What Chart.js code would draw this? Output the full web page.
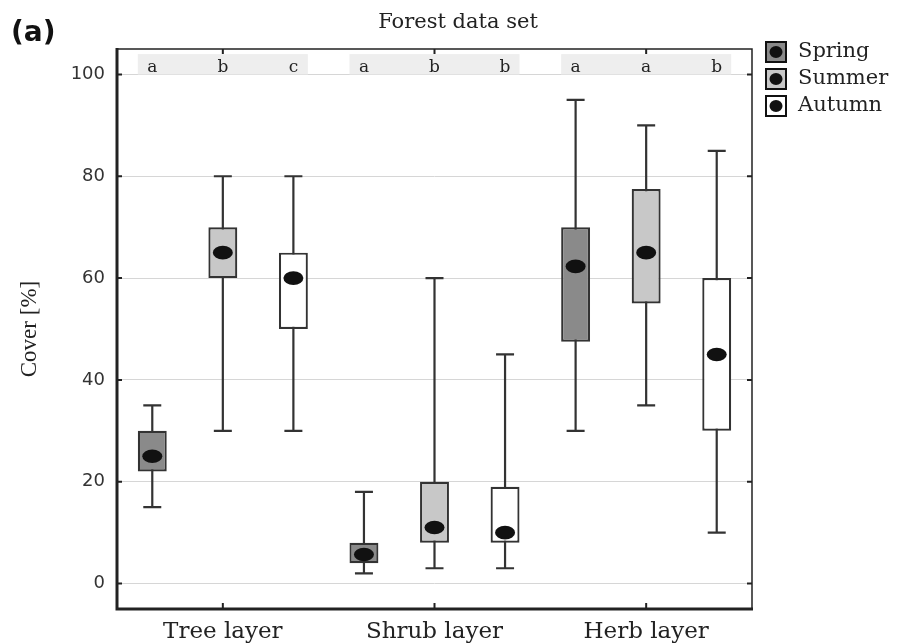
<!DOCTYPE html>
<html>
<head>
<meta charset="utf-8">
<script src="https://cdn.jsdelivr.net/npm/chart.js@4.4.1/dist/chart.umd.min.js"></script>
<style>
  html, body { margin: 0; padding: 0; background: #fff; }
  #wrap { width: 908px; height: 643px; position: relative; }
</style>
</head>
<body>
<div id="wrap"><canvas id="boxChart"></canvas></div>
<script>
const categories = ['Tree layer', 'Shrub layer', 'Herb layer'];
const seasons = ['Spring', 'Summer', 'Autumn'];
const yTicks = [0, 20, 40, 60, 80, 100];

// whisker min, box q1, median, box q3, whisker max (per layer)
const springMin = [15, 2, 30];
const springQ1 = [22, 4, 47.5];
const springMedian = [25, 5.7, 62.3];
const springQ3 = [30, 8, 70];
const springMax = [35, 18, 95];

const summerMin = [30, 3, 35];
const summerQ1 = [60, 8, 55];
const summerMedian = [65, 11, 65];
const summerQ3 = [70, 20, 77.5];
const summerMax = [80, 60, 90];

const autumnMin = [30, 3, 10];
const autumnQ1 = [50, 8, 30];
const autumnMedian = [60, 10, 45];
const autumnQ3 = [65, 19, 60];
const autumnMax = [80, 45, 85];

const springLetters = ['a', 'a', 'a'];
const summerLetters = ['b', 'b', 'a'];
const autumnLetters = ['c', 'b', 'b'];

const seasonColors = ['#8a8a8a', '#c8c8c8', '#ffffff'];
const SERIF = '"DejaVu Serif", serif';
const NARROW_SERIF = '"Liberation Serif", serif';
const SANS = '"DejaVu Sans", sans-serif';

const stats = [
    { min: springMin, median: springMedian, max: springMax, letters: springLetters },
    { min: summerMin, median: summerMedian, max: summerMax, letters: summerLetters },
    { min: autumnMin, median: autumnMedian, max: autumnMax, letters: autumnLetters }
];

const boxes = [springQ1, summerQ1, autumnQ1].map((q1, s) => {
    const q3 = [springQ3, summerQ3, autumnQ3][s];
    return q1.map((v, i) => [v, q3[i]]);
});

// letter strip, whiskers under the boxes
const underBoxes = {
    id: 'underBoxes',
    beforeDatasetsDraw(chart) {
        const { ctx } = chart;
        const y = chart.scales.y;
        const first = chart.getDatasetMeta(0).data;
        const last = chart.getDatasetMeta(2).data;

        ctx.save();
        ctx.fillStyle = '#eeeeee';
        first.forEach((bar, i) => {
            const x0 = bar.x - bar.width / 2;
            const x1 = last[i].x + last[i].width / 2;
            const yTop = y.getPixelForValue(104);
            ctx.fillRect(x0, yTop, x1 - x0, y.getPixelForValue(100) - yTop);
        });

        ctx.font = '17px ' + SERIF;
        ctx.fillStyle = '#222';
        ctx.textAlign = 'center';
        ctx.textBaseline = 'middle';
        stats.forEach((st, s) => {
            chart.getDatasetMeta(s).data.forEach((bar, i) => {
                ctx.fillText(st.letters[i], bar.x, y.getPixelForValue(101.3));
            });
        });

        ctx.strokeStyle = '#333';
        ctx.lineWidth = 2.2;
        stats.forEach((st, s) => {
            chart.getDatasetMeta(s).data.forEach((bar, i) => {
                const yMin = y.getPixelForValue(st.min[i]);
                const yMax = y.getPixelForValue(st.max[i]);
                ctx.beginPath();
                ctx.moveTo(bar.x, yMin);
                ctx.lineTo(bar.x, yMax);
                ctx.moveTo(bar.x - 9, yMin);
                ctx.lineTo(bar.x + 9, yMin);
                ctx.moveTo(bar.x - 9, yMax);
                ctx.lineTo(bar.x + 9, yMax);
                ctx.stroke();
            });
        });
        ctx.restore();
    }
};

// median dots, frame, ticks and legend
const overBoxes = {
    id: 'overBoxes',
    afterDatasetsDraw(chart) {
        const { ctx, chartArea: a } = chart;
        const y = chart.scales.y;
        const x = chart.scales.x;

        ctx.save();
        ctx.fillStyle = '#111';
        stats.forEach((st, s) => {
            chart.getDatasetMeta(s).data.forEach((bar, i) => {
                ctx.beginPath();
                ctx.ellipse(bar.x, y.getPixelForValue(st.median[i]), 10, 6.8, 0, 0, Math.PI * 2);
                ctx.fill();
            });
        });

        // frame
        ctx.strokeStyle = '#222';
        ctx.lineWidth = 1.5;
        ctx.beginPath();
        ctx.moveTo(a.left, a.top);
        ctx.lineTo(a.right, a.top);
        ctx.lineTo(a.right, a.bottom);
        ctx.stroke();
        ctx.lineWidth = 3;
        ctx.beginPath();
        ctx.moveTo(a.left, a.top - 1);
        ctx.lineTo(a.left, a.bottom);
        ctx.lineTo(a.right + 1, a.bottom);
        ctx.stroke();

        // inward ticks
        ctx.lineWidth = 2;
        ctx.beginPath();
        yTicks.forEach(v => {
            const py = y.getPixelForValue(v);
            ctx.moveTo(a.left, py);
            ctx.lineTo(a.left + 5, py);
            ctx.moveTo(a.right, py);
            ctx.lineTo(a.right - 5, py);
        });
        categories.forEach((c, i) => {
            const px = x.getPixelForValue(i);
            ctx.moveTo(px, a.bottom);
            ctx.lineTo(px, a.bottom - 6);
            ctx.moveTo(px, a.top);
            ctx.lineTo(px, a.top + 5);
        });
        ctx.stroke();

        // panel label
        ctx.fillStyle = '#111';
        ctx.font = 'bold 28px ' + SANS;
        ctx.textAlign = 'left';
        ctx.textBaseline = 'middle';
        ctx.fillText('(a)', 11, 34);

        // legend
        const lx = 765;
        seasons.forEach((name, s) => {
            const ly = 41 + s * 27;
            ctx.fillStyle = '#111';
            ctx.fillRect(lx, ly, 22, 22);
            ctx.fillStyle = seasonColors[s];
            ctx.fillRect(lx + 2, ly + 2, 18, 18);
            ctx.fillStyle = '#111';
            ctx.beginPath();
            ctx.ellipse(lx + 11, ly + 11, 6.5, 6, 0, 0, Math.PI * 2);
            ctx.fill();
            ctx.font = '21px ' + SERIF;
            ctx.fillStyle = '#222';
            ctx.textAlign = 'left';
            ctx.textBaseline = 'middle';
            ctx.fillText(name, lx + 33, ly + 11);
        });
        ctx.restore();
    }
};

new Chart(document.getElementById('boxChart'), {
    type: 'bar',
    data: {
        labels: categories,
        datasets: seasons.map((name, s) => ({
            label: name,
            data: boxes[s],
            backgroundColor: seasonColors[s],
            borderColor: '#333',
            borderWidth: 2.2,
            borderSkipped: false,
            categoryPercentage: 1,
            barPercentage: 0.41
        }))
    },
    options: {
        responsive: true,
        maintainAspectRatio: false,
        animation: false,
        layout: { padding: { left: 8, right: 0, top: 0, bottom: 0 } },
        plugins: {
            legend: { display: false },
            tooltip: { enabled: false },
            title: {
                display: true,
                text: 'Forest data set',
                color: '#222',
                font: { family: SERIF, size: 21, weight: 'normal', lineHeight: 1.2 },
                padding: { top: 10, bottom: 13.8 }
            }
        },
        scales: {
            x: {
                grid: { display: false, drawTicks: false },
                border: { display: false },
                ticks: {
                    color: '#222',
                    padding: 9,
                    font: { family: SERIF, size: 23 }
                },
                afterFit(scale) { scale.height = 34; }
            },
            y: {
                min: -5,
                max: 105,
                afterBuildTicks(scale) {
                    scale.ticks = yTicks.map(v => ({ value: v }));
                },
                grid: { color: '#d6d6d6', lineWidth: 1, drawTicks: false },
                border: { display: false },
                ticks: {
                    color: '#333',
                    padding: 12,
                    font: { family: SANS, size: 18 }
                },
                title: {
                    display: true,
                    text: 'Cover [%]',
                    color: '#222',
                    font: { family: NARROW_SERIF, size: 23 },
                    padding: { top: 8, bottom: 0 }
                },
                afterFit(scale) { scale.width = 109; }
            },
            // empty right-hand scale that reserves the legend column
            side: {
                position: 'right',
                grid: { display: false, drawTicks: false },
                border: { display: false },
                ticks: { display: false },
                afterFit(scale) { scale.width = 156; }
            }
        }
    },
    plugins: [underBoxes, overBoxes]
});
</script>
</body>
</html>
